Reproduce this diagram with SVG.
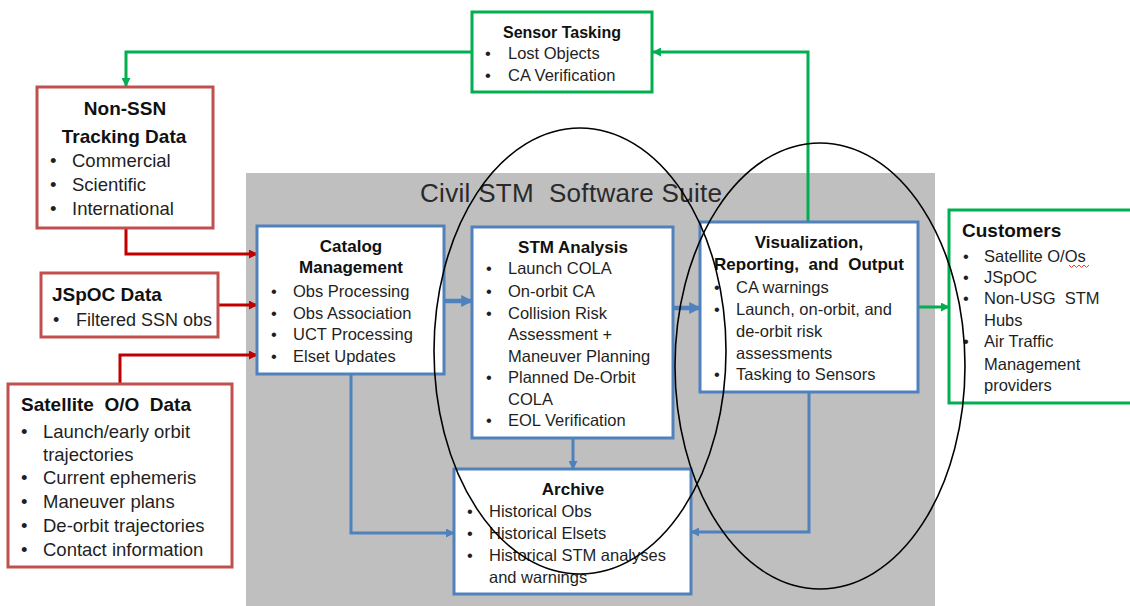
<svg xmlns="http://www.w3.org/2000/svg" width="1130" height="606" viewBox="0 0 1130 606">
<style>
.red{fill:#fff;stroke:#C0504D;stroke-width:3}
.blue{fill:#fff;stroke:#4F81BD;stroke-width:3}
.green{fill:#fff;stroke:#00B050;stroke-width:3}
text{font-family:"Liberation Sans",Arial,sans-serif;fill:#1f1f1f}
.t{font-weight:bold;fill:#111}
.c{text-anchor:middle}
.i{font-size:16.5px}
.ib{font-size:18.5px}
.cr{fill:none;stroke:#C00000;stroke-width:3}
.cb{fill:none;stroke:#4F81BD;stroke-width:3}
.cbb{fill:none;stroke:#4F81BD;stroke-width:4.5}
.cg{fill:none;stroke:#00B050;stroke-width:3}
.ell{fill:none;stroke:#000;stroke-width:1.6}
</style>
<defs>
<marker id="aR" viewBox="0 0 10 10" refX="9" refY="5" markerWidth="9" markerHeight="9" markerUnits="userSpaceOnUse" orient="auto"><path d="M0,0 L10,5 L0,10 z" fill="#C00000"/></marker>
<marker id="aB" viewBox="0 0 10 10" refX="9" refY="5" markerWidth="9" markerHeight="9" markerUnits="userSpaceOnUse" orient="auto"><path d="M0,0 L10,5 L0,10 z" fill="#4F81BD"/></marker>
<marker id="aBB" viewBox="0 0 10 10" refX="9" refY="5" markerWidth="12" markerHeight="14" markerUnits="userSpaceOnUse" orient="auto"><path d="M0,0 L10,5 L0,10 z" fill="#4F81BD"/></marker>
<marker id="aG" viewBox="0 0 10 10" refX="9" refY="5" markerWidth="9" markerHeight="9" markerUnits="userSpaceOnUse" orient="auto"><path d="M0,0 L10,5 L0,10 z" fill="#00B050"/></marker>
</defs>

<rect id="suite" x="246" y="173" width="689" height="440" fill="#BFBFBF"/>
<text x="420" y="202" style="font-size:26px;fill:#2a2a2a" xml:space="preserve" textLength="302" lengthAdjust="spacing">Civil STM  Software Suite</text>

<g id="connectors">
<path class="cg" d="M472 52 H126 V86" marker-end="url(#aG)"/>
<path class="cg" d="M808 222 V52 H653" marker-end="url(#aG)"/>
<path class="cr" d="M126 228 V254 H257" marker-end="url(#aR)"/>
<path class="cr" d="M218 305 H257" marker-end="url(#aR)"/>
<path class="cr" d="M120 384 V355 H257" marker-end="url(#aR)"/>
<path class="cbb" d="M444 301 H472" marker-end="url(#aBB)"/>
<path class="cbb" d="M673 308 H700" marker-end="url(#aBB)"/>
<path class="cb" d="M351 374 V533 H454" marker-end="url(#aB)"/>
<path class="cb" d="M573 438 V469" marker-end="url(#aB)"/>
<path class="cb" d="M809 392 V532 H691" marker-end="url(#aB)"/>
<path class="cg" d="M918 307 H949" marker-end="url(#aG)"/>
</g>

<g id="sensor-tasking">
<rect class="green" x="472" y="12" width="180" height="80"/>
<text class="t c" x="562" y="38" style="font-size:16px">Sensor Tasking</text>
<text class="i" x="485" y="59">•</text><text class="i" x="508" y="59">Lost Objects</text>
<text class="i" x="485" y="81">•</text><text class="i" x="508" y="81">CA Verification</text>
</g>

<g id="non-ssn">
<rect class="red" x="37" y="87" width="176" height="141"/>
<text class="t c" x="125" y="115" style="font-size:19px">Non-SSN</text>
<text class="t c" x="124" y="143" style="font-size:19px">Tracking Data</text>
<text class="ib" x="50" y="167">•</text><text class="ib" x="72" y="167">Commercial</text>
<text class="ib" x="50" y="191">•</text><text class="ib" x="72" y="191">Scientific</text>
<text class="ib" x="50" y="215">•</text><text class="ib" x="72" y="215">International</text>
</g>

<g id="jspoc">
<rect class="red" x="41" y="273" width="177" height="64"/>
<text class="t" x="52" y="301" style="font-size:19px">JSpOC Data</text>
<text class="ib" x="53" y="326" style="font-size:18px">•</text><text x="76" y="326" style="font-size:18px">Filtered SSN obs</text>
</g>

<g id="satellite-oo">
<rect class="red" x="8" y="384" width="224" height="183"/>
<text class="t" x="21" y="411" style="font-size:19px" xml:space="preserve">Satellite  O/O  Data</text>
<text class="ib" x="21" y="438">•</text><text class="ib" x="43" y="438">Launch/early orbit</text>
<text class="ib" x="43" y="461">trajectories</text>
<text class="ib" x="21" y="484">•</text><text class="ib" x="43" y="484">Current ephemeris</text>
<text class="ib" x="21" y="508">•</text><text class="ib" x="43" y="508">Maneuver plans</text>
<text class="ib" x="21" y="532">•</text><text class="ib" x="43" y="532">De-orbit trajectories</text>
<text class="ib" x="21" y="556">•</text><text class="ib" x="43" y="556">Contact information</text>
</g>

<g id="catalog-management">
<rect class="blue" x="257" y="226" width="187" height="148"/>
<text class="t c" x="351" y="252" style="font-size:17px">Catalog</text>
<text class="t c" x="351" y="273" style="font-size:17px">Management</text>
<text class="i" x="271" y="297">•</text><text class="i" x="293" y="297">Obs Processing</text>
<text class="i" x="271" y="319">•</text><text class="i" x="293" y="319">Obs Association</text>
<text class="i" x="271" y="340">•</text><text class="i" x="293" y="340">UCT Processing</text>
<text class="i" x="271" y="362">•</text><text class="i" x="293" y="362">Elset Updates</text>
</g>

<g id="stm-analysis">
<rect class="blue" x="472" y="227" width="201" height="211"/>
<text class="t c" x="573" y="253" style="font-size:17px">STM Analysis</text>
<text class="i" x="486" y="274">•</text><text class="i" x="508" y="274">Launch COLA</text>
<text class="i" x="486" y="297">•</text><text class="i" x="508" y="297">On-orbit CA</text>
<text class="i" x="486" y="319">•</text><text class="i" x="508" y="319">Collision Risk</text>
<text class="i" x="508" y="340">Assessment +</text>
<text class="i" x="508" y="362">Maneuver Planning</text>
<text class="i" x="486" y="383">•</text><text class="i" x="508" y="383">Planned De-Orbit</text>
<text class="i" x="508" y="405">COLA</text>
<text class="i" x="486" y="426">•</text><text class="i" x="508" y="426">EOL Verification</text>
</g>

<g id="archive">
<rect class="blue" x="454" y="469" width="237" height="125"/>
<text class="t c" x="573" y="495" style="font-size:17px">Archive</text>
<text class="i" x="467" y="517">•</text><text class="i" x="489" y="517">Historical Obs</text>
<text class="i" x="467" y="539">•</text><text class="i" x="489" y="539">Historical Elsets</text>
<text class="i" x="467" y="561">•</text><text class="i" x="489" y="561">Historical STM analyses</text>
<text class="i" x="489" y="583">and warnings</text>
</g>

<g id="visualization">
<rect class="blue" x="700" y="222" width="218" height="170"/>
<text class="t c" x="809" y="248" style="font-size:17px">Visualization,</text>
<text class="t c" x="809" y="270" style="font-size:17px" xml:space="preserve">Reporting,  and  Output</text>
<text class="i" x="714" y="293">•</text><text class="i" x="736" y="293">CA warnings</text>
<text class="i" x="714" y="315">•</text><text class="i" x="736" y="315">Launch, on-orbit, and</text>
<text class="i" x="736" y="337">de-orbit risk</text>
<text class="i" x="736" y="359">assessments</text>
<text class="i" x="714" y="380">•</text><text class="i" x="736" y="380">Tasking to Sensors</text>
</g>

<g id="customers">
<rect class="green" x="949" y="210" width="200" height="193"/>
<text class="t" x="962" y="237" style="font-size:19px">Customers</text>
<text class="i" x="963" y="262">•</text><text class="i" x="984" y="262">Satellite O/Os</text>
<path d="M1069 265 l2.5 2.5 l2.5 -2.5 l2.5 2.5 l2.5 -2.5 l2.5 2.5 l2.5 -2.5 l2.5 2.5 l2.5 -2.5" fill="none" stroke="#FF3030" stroke-width="1"/>
<text class="i" x="963" y="283">•</text><text class="i" x="984" y="283">JSpOC</text>
<text class="i" x="963" y="304">•</text><text class="i" x="984" y="304" xml:space="preserve">Non-USG  STM</text>
<text class="i" x="984" y="326">Hubs</text>
<text class="i" x="963" y="347">•</text><text class="i" x="984" y="347">Air Traffic</text>
<text class="i" x="984" y="370">Management</text>
<text class="i" x="984" y="391">providers</text>
</g>

<g id="highlights">
<ellipse class="ell" cx="580" cy="351" rx="146" ry="223"/>
<ellipse class="ell" cx="820" cy="366" rx="145" ry="223"/>
</g>
</svg>
